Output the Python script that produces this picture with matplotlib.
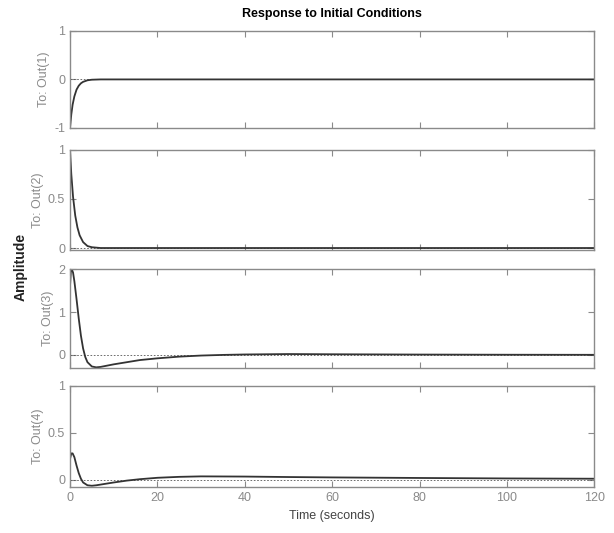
import matplotlib
matplotlib.use("Agg")
import matplotlib.pyplot as plt

plt.rcParams['font.family'] = ['Liberation Sans', 'DejaVu Sans']

# dados
t1 = [0, 0.3, 0.6, 1.0, 1.5, 2.0, 2.5, 3.0, 4.0, 5.0, 7.0, 120]
y1 = [-1.0, -0.72, -0.52, -0.35, -0.21, -0.13, -0.08, -0.05, -0.018, -0.006, 0.0, 0.0]

t2 = [0, 0.3, 0.7, 1.2, 1.7, 2.2, 3.0, 4.0, 5.0, 7.0, 120]
y2 = [1.0, 0.75, 0.52, 0.33, 0.21, 0.13, 0.06, 0.02, 0.008, 0.0, 0.0]

t3 = [0, 0.2, 0.4, 0.7, 1.0, 1.5, 2.0, 2.5, 3.0, 3.5, 4.0, 5.0, 6.0, 7.0, 8.0, 10, 13, 16, 20, 25, 30, 35, 40, 50, 60, 80, 100, 120]
y3 = [1.6, 1.95, 2.0, 1.92, 1.72, 1.3, 0.85, 0.45, 0.15, -0.05, -0.17, -0.27, -0.29, -0.28, -0.26, -0.22, -0.17, -0.12, -0.08, -0.04, -0.015, 0.0, 0.01, 0.02, 0.015, 0.008, 0.004, 0.002]

t4 = [0, 0.3, 0.6, 1.0, 1.5, 2.0, 2.5, 3.0, 4.0, 5.0, 6.0, 8.0, 10, 13, 16, 20, 25, 30, 40, 50, 60, 80, 100, 120]
y4 = [0.22, 0.28, 0.28, 0.24, 0.15, 0.07, 0.01, -0.03, -0.06, -0.065, -0.06, -0.045, -0.03, -0.01, 0.005, 0.02, 0.03, 0.035, 0.033, 0.028, 0.024, 0.018, 0.013, 0.01]

tempos = [t1, t2, t3, t4]
valores = [y1, y2, y3, y4]
nomes = ["To: Out(1)", "To: Out(2)", "To: Out(3)", "To: Out(4)"]
limites = [(-1, 1), (-0.02, 1), (-0.3, 2), (-0.08, 1)]
ticks_y = [[-1, 0, 1], [0, 0.5, 1], [0, 1, 2], [0, 0.5, 1]]
ticks_x = [0, 20, 40, 60, 80, 100, 120]

cinza = "#8a8a8a"

fig = plt.figure(figsize=(6.14, 5.33), dpi=100)

# posicoes dos paineis (left, bottom, width, height)
caixas = [
    [0.114, 0.760, 0.854, 0.182],
    [0.114, 0.531, 0.854, 0.188],
    [0.114, 0.310, 0.854, 0.185],
    [0.114, 0.086, 0.854, 0.190],
]

for i in range(4):
    ax = fig.add_axes(caixas[i])
    ax.plot([0, 120], [0, 0], linestyle=(0, (2, 2)), color="#555555", linewidth=0.6)
    ax.plot(tempos[i], valores[i], color="#333333", linewidth=1.3)
    ax.set_xlim(0, 120)
    ax.set_ylim(limites[i])
    ax.set_yticks(ticks_y[i])
    ax.set_yticklabels([("%g" % v) for v in ticks_y[i]])
    ax.set_xticks(ticks_x)
    ax.tick_params(direction="in", top=True, right=True, colors=cinza,
                   labelsize=9, length=4, width=0.8, labelcolor=cinza)
    for lado in ax.spines.values():
        lado.set_color(cinza)
        lado.set_linewidth(1.0)
    ax.set_ylabel(nomes[i], color=cinza, fontsize=9, labelpad=3)
    if i < 3:
        ax.set_xticklabels([])
    else:
        ax.set_xlabel("Time (seconds)", fontsize=9, color="#444444")
    if i == 0:
        ax.set_title("Response to Initial Conditions", fontsize=9, fontweight="bold", pad=10)

fig.text(0.034, 0.50, "Amplitude", rotation=90, fontsize=10, fontweight="bold",
         ha="center", va="center", color="#222222")

plt.savefig("out.png", dpi=100)
